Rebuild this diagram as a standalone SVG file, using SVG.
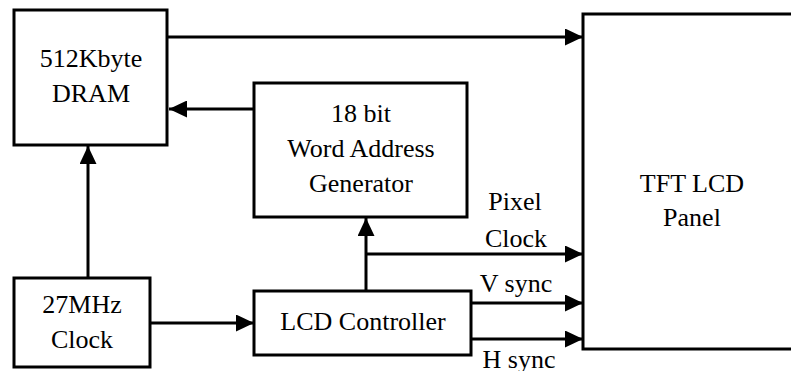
<svg xmlns="http://www.w3.org/2000/svg" width="791" height="371" viewBox="0 0 791 371">
<defs>
<style>
.box{fill:#fff;stroke:#000;stroke-width:3}
.ln{fill:none;stroke:#000;stroke-width:3;marker-end:url(#ah)}
</style>
<marker id="ah" markerUnits="userSpaceOnUse" markerWidth="18" markerHeight="17" refX="18" refY="8.5" orient="auto" viewBox="0 0 18 17">
<path d="M0,0 L18,8.5 L0,17 z" fill="#000"/>
</marker>
</defs>
<rect width="791" height="371" fill="#fff"/>
<g id="connectors">
<line class="ln" x1="168" y1="37" x2="583" y2="37"/>
<line class="ln" x1="254" y1="109" x2="169" y2="109"/>
<line class="ln" x1="88" y1="278" x2="88" y2="146"/>
<line class="ln" x1="151" y1="323" x2="254" y2="323"/>
<line class="ln" x1="366" y1="291" x2="366" y2="218"/>
<line class="ln" x1="366" y1="254" x2="583" y2="254"/>
<line class="ln" x1="471" y1="303" x2="583" y2="303"/>
<line class="ln" x1="471" y1="339" x2="583" y2="339"/>
</g>
<g font-family="Liberation Serif, Times New Roman, DejaVu Serif, serif" font-size="26" text-anchor="middle" fill="#000">
<g id="dram">
<rect class="box" x="14" y="10" width="153" height="135"/>
<text x="91" y="67">512Kbyte</text>
<text x="91" y="102">DRAM</text>
</g>
<g id="wag">
<rect class="box" x="254" y="83" width="213" height="134"/>
<text x="361" y="122">18 bit</text>
<text x="361" y="157">Word Address</text>
<text x="361" y="192">Generator</text>
</g>
<g id="clock">
<rect class="box" x="14" y="278" width="136" height="89"/>
<text x="82" y="313">27MHz</text>
<text x="82" y="348">Clock</text>
</g>
<g id="lcd">
<rect class="box" x="254" y="291" width="217" height="64"/>
<text x="363" y="330">LCD Controller</text>
</g>
<g id="tft">
<rect class="box" x="583" y="14" width="215" height="335"/>
<text x="692" y="192">TFT LCD</text>
<text x="692" y="226">Panel</text>
</g>
<g id="labels">
<text x="515" y="210">Pixel</text>
<text x="516" y="247">Clock</text>
<text x="516" y="292">V sync</text>
<text x="519" y="368">H sync</text>
</g>
</g>
</svg>
